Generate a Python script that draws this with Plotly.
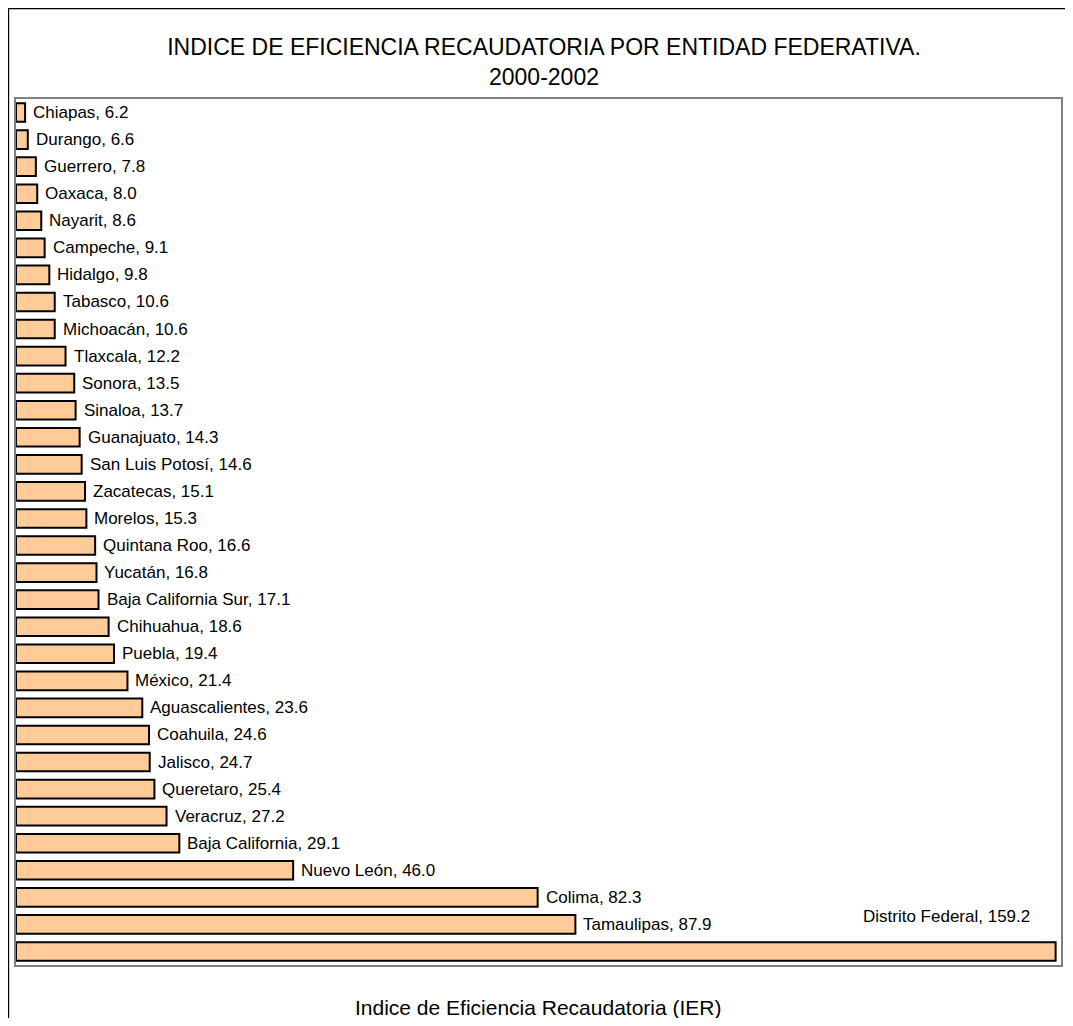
import plotly.graph_objects as go

# Data
estados = [
    "Chiapas", "Durango", "Guerrero", "Oaxaca", "Nayarit", "Campeche", "Hidalgo",
    "Tabasco", "Michoacán", "Tlaxcala", "Sonora", "Sinaloa", "Guanajuato",
    "San Luis Potosí", "Zacatecas", "Morelos", "Quintana Roo", "Yucatán",
    "Baja California Sur", "Chihuahua", "Puebla", "México", "Aguascalientes",
    "Coahuila", "Jalisco", "Queretaro", "Veracruz", "Baja California",
    "Nuevo León", "Colima", "Tamaulipas", "Distrito Federal",
]
ier = [
    6.2, 6.6, 7.8, 8.0, 8.6, 9.1, 9.8, 10.6, 10.6, 12.2, 13.5, 13.7, 14.3,
    14.6, 15.1, 15.3, 16.6, 16.8, 17.1, 18.6, 19.4, 21.4, 23.6, 24.6, 24.7,
    25.4, 27.2, 29.1, 46.0, 82.3, 87.9, 159.2,
]
x_min, x_max = 4.85, 160.0
titulo = "INDICE DE EFICIENCIA RECAUDATORIA POR ENTIDAD FEDERATIVA.<br>2000-2002"
eje_x = "Indice de Eficiencia Recaudatoria (IER)"

FONT = "Liberation Sans, Arial, sans-serif"
W, H = 1057, 1010
ML, MR, MT, MB = 8, 2, 91, 53

fig = go.Figure()
fig.add_trace(go.Bar(
    y=estados,
    x=[v - x_min for v in ier],
    base=x_min,
    orientation="h",
    marker=dict(color="#FFCC99", line=dict(color="black", width=2)),
    hoverinfo="skip",
))

annotations = []
last = len(estados) - 1
for i, (name, v) in enumerate(zip(estados, ier)):
    txt = f"{name}, {v:.1f}"
    if i == last:
        annotations.append(dict(x=v, y=name, xref="x", yref="y", text=txt,
                                showarrow=False, xanchor="right", yanchor="middle",
                                xshift=-24, yshift=35,
                                font=dict(family=FONT, size=17, color="black")))
    else:
        annotations.append(dict(x=v, y=name, xref="x", yref="y", text=txt,
                                showarrow=False, xanchor="left", yanchor="middle",
                                xshift=6,
                                font=dict(family=FONT, size=17, color="black")))

annotations.append(dict(x=0.5, y=0, xref="paper", yref="paper", text=eje_x,
                        showarrow=False, xanchor="center", yanchor="middle",
                        yshift=-42, font=dict(family=FONT, size=21, color="black")))

pw = W - ML - MR
ph = H - MT - MB
shapes = [dict(type="rect", xref="paper", yref="paper",
               x0=(0.5 - ML) / pw, x1=(W + 20 - ML) / pw,
               y0=-(MB + 20) / ph, y1=1 + (MT - 0.5) / ph,
               line=dict(color="black", width=1.3), fillcolor="rgba(0,0,0,0)",
               layer="below")]

fig.update_layout(
    width=W, height=H,
    margin=dict(l=ML, r=MR, t=MT, b=MB, pad=0),
    paper_bgcolor="white", plot_bgcolor="white",
    showlegend=False,
    bargap=0.31,
    title=dict(text=titulo, x=536 / W, xref="container", xanchor="center",
               y=1 - 47 / H, yref="container", yanchor="top",
               font=dict(family=FONT, size=23, color="black")),
    xaxis=dict(range=[x_min, x_max], showgrid=False, zeroline=False,
               showticklabels=False, ticks="", showline=True, mirror=True,
               linecolor="#808080", linewidth=2),
    yaxis=dict(type="category", range=[len(estados) - 0.5, -0.5],
               autorange=False, showgrid=False,
               zeroline=False, showticklabels=False, ticks="", showline=True,
               mirror=True, linecolor="#808080", linewidth=2),
    annotations=annotations,
    shapes=shapes,
)

fig.write_html("out.html")
